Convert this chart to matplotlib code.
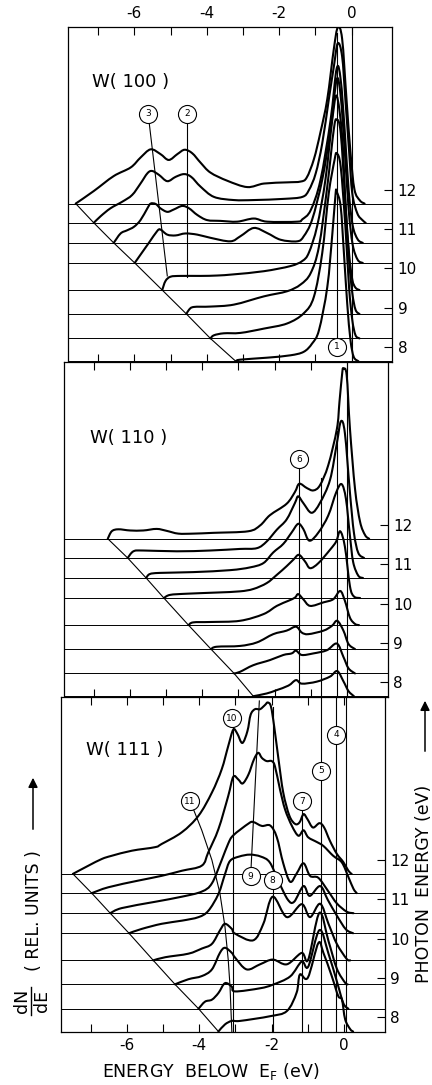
import matplotlib
matplotlib.use("Agg")
import matplotlib.pyplot as plt
from matplotlib.ticker import FixedLocator, NullFormatter
from matplotlib.lines import Line2D
from matplotlib.path import Path
from matplotlib.patches import PathPatch

plt.rcParams['font.family'] = ['DejaVu Sans']
plt.rcParams['axes.unicode_minus'] = False

# photon energies (eV) of the spectra (same set for the three faces), lowest first
photon_energy = [7.64, 8.22, 8.84, 9.45, 10.14, 10.65, 11.16, 11.65]

# ---- W(100): energy below E_F (eV) and dN/dE (rel. units), one list per spectrum
w100_energy = [
    [-3.20, -3.07, -2.33, -1.69, -1.32, -1.09, -0.90, -0.67, -0.53, -0.44, -0.41, -0.30, -0.21, -0.12, -0.03, 0.06, 0.19],
    [-3.90, -3.80, -3.53, -3.07, -2.42, -1.78, -1.32, -1.04, -0.81, -0.63, -0.47, -0.41, -0.30, -0.17, -0.07, 0.02, 0.11, 0.22],
    [-4.56, -4.49, -4.36, -3.90, -3.25, -2.42, -1.78, -1.41, -1.13, -0.90, -0.67, -0.49, -0.41, -0.30, -0.17, -0.07, 0.02, 0.11, 0.22],
    [-5.23, -5.14, -5.00, -4.72, -4.17, -3.71, -3.25, -2.42, -1.69, -1.36, -1.18, -0.95, -0.72, -0.53, -0.41, -0.26, -0.17, -0.07, 0.02, 0.11, 0.22],
    [-5.99, -5.83, -5.60, -5.37, -5.28, -5.09, -4.86, -4.59, -4.26, -3.90, -3.35, -3.07, -2.70, -2.33, -1.96, -1.50, -1.32, -1.09, -0.81, -0.58, -0.41, -0.30, -0.19, -0.08, 0.03, 0.17, 0.31],
    [-6.57, -6.38, -6.20, -6.01, -5.83, -5.64, -5.55, -5.41, -5.28, -5.09, -4.91, -4.68, -4.49, -4.26, -3.99, -3.62, -3.16, -2.70, -2.33, -1.50, -1.36, -1.13, -0.86, -0.58, -0.41, -0.30, -0.19, -0.08, 0.03, 0.17, 0.31],
    [-7.12, -6.93, -6.66, -6.33, -6.06, -5.83, -5.64, -5.51, -5.32, -5.09, -4.86, -4.63, -4.43, -4.17, -3.80, -3.25, -2.70, -1.87, -1.36, -1.18, -0.99, -0.81, -0.63, -0.49, -0.38, -0.26, -0.17, -0.07, 0.02, 0.16, 0.30, 0.39],
    [-7.62, -7.12, -6.57, -6.10, -5.83, -5.55, -5.28, -5.05, -4.81, -4.61, -4.40, -4.17, -3.90, -3.43, -2.88, -2.42, -1.78, -1.41, -1.24, -1.04, -0.86, -0.67, -0.49, -0.38, -0.26, -0.14, -0.03, 0.08, 0.23, 0.36],
]
w100_dnde = [
    [0, 0.04, 0.09, 0.15, 0.24, 0.45, 0.79, 1.89, 3.25, 4.27, 4.31, 3.93, 2.74, 1.47, 0.54, 0.11, 0],
    [0, 0.08, 0.13, 0.14, 0.25, 0.38, 0.64, 1.06, 2.17, 3.69, 4.54, 4.71, 4.37, 2.84, 1.31, 0.47, 0.08, 0],
    [0, 0.11, 0.18, 0.19, 0.24, 0.45, 0.58, 0.75, 1.04, 1.72, 3.25, 4.70, 4.95, 4.61, 2.83, 1.38, 0.54, 0.11, 0],
    [0, 0.23, 0.34, 0.36, 0.36, 0.37, 0.40, 0.48, 0.61, 0.74, 0.95, 1.63, 2.82, 4.35, 4.94, 3.92, 2.23, 0.95, 0.27, 0.06, 0],
    [0, 0.21, 0.51, 0.81, 0.85, 0.72, 0.70, 0.75, 0.72, 0.64, 0.55, 0.68, 0.89, 0.76, 0.59, 0.55, 0.68, 1.10, 2.12, 3.40, 4.67, 4.24, 2.89, 1.36, 0.47, 0.08, 0],
    [0, 0.24, 0.32, 0.41, 0.58, 0.88, 1.00, 0.99, 0.88, 0.79, 0.85, 0.94, 0.88, 0.71, 0.58, 0.56, 0.54, 0.62, 0.54, 0.54, 0.60, 0.83, 1.59, 3.12, 4.44, 4.15, 2.87, 1.34, 0.45, 0.09, 0],
    [0, 0.17, 0.37, 0.54, 0.71, 1.00, 1.26, 1.32, 1.22, 1.06, 1.17, 1.24, 1.17, 0.92, 0.66, 0.58, 0.58, 0.61, 0.66, 0.83, 1.26, 2.02, 3.13, 3.97, 4.57, 4.23, 3.13, 1.85, 0.75, 0.24, 0.07, 0],
    [0, 0.32, 0.70, 0.92, 1.17, 1.38, 1.26, 1.11, 1.26, 1.37, 1.28, 1.04, 0.79, 0.58, 0.42, 0.51, 0.54, 0.56, 0.66, 1.13, 1.81, 2.66, 3.93, 4.48, 4.19, 2.66, 1.30, 0.36, 0.08, 0],
]

# ---- W(110)
w110_energy = [
    [-2.59, -2.22, -1.96, -1.62, -1.41, -1.25, -0.84, -0.47, -0.27, -0.10, 0.04, 0.19],
    [-3.12, -2.96, -2.59, -2.13, -1.76, -1.53, -1.41, -1.25, -0.93, -0.56, -0.28, -0.10, 0.04, 0.22],
    [-3.76, -3.60, -2.96, -2.49, -2.04, -1.67, -1.41, -1.25, -1.07, -0.65, -0.42, -0.27, -0.10, 0.04, 0.22],
    [-4.38, -4.25, -3.78, -2.96, -2.31, -1.94, -1.62, -1.44, -1.35, -1.21, -1.02, -0.65, -0.38, -0.19, -0.06, 0.08, 0.22, 0.33],
    [-5.06, -4.89, -4.43, -3.60, -2.96, -2.59, -2.22, -1.94, -1.67, -1.48, -1.33, -1.16, -1.02, -0.79, -0.47, -0.30, -0.19, -0.06, 0.08, 0.19, 0.36],
    [-5.55, -5.45, -5.17, -4.25, -3.23, -2.68, -2.31, -2.04, -1.76, -1.53, -1.35, -1.21, -1.04, -0.79, -0.52, -0.30, -0.15, -0.03, 0.08, 0.17, 0.31, 0.44],
    [-6.06, -5.90, -5.63, -4.70, -3.78, -2.96, -2.49, -2.22, -1.94, -1.67, -1.44, -1.35, -1.21, -0.98, -0.75, -0.47, -0.28, -0.17, -0.06, 0.08, 0.19, 0.31, 0.47],
    [-6.61, -6.50, -6.32, -5.99, -5.63, -5.26, -4.98, -4.66, -4.25, -3.69, -2.73, -2.40, -2.13, -1.67, -1.44, -1.32, -1.11, -0.93, -0.75, -0.52, -0.28, -0.21, -0.13, -0.10, -0.01, 0.08, 0.22, 0.36, 0.50, 0.61],
]
w110_dnde = [
    [0, 0.07, 0.15, 0.27, 0.41, 0.32, 0.37, 0.50, 0.64, 0.38, 0.13, 0],
    [0, 0.04, 0.21, 0.34, 0.47, 0.51, 0.58, 0.47, 0.51, 0.59, 0.76, 0.42, 0.13, 0],
    [0, 0.06, 0.08, 0.17, 0.38, 0.47, 0.57, 0.42, 0.38, 0.47, 0.59, 0.72, 0.47, 0.13, 0],
    [0, 0.07, 0.08, 0.11, 0.28, 0.49, 0.62, 0.70, 0.79, 0.66, 0.49, 0.58, 0.66, 0.87, 0.62, 0.19, 0.03, 0],
    [0, 0.08, 0.11, 0.14, 0.17, 0.23, 0.38, 0.59, 0.81, 0.98, 1.10, 0.93, 0.76, 0.89, 1.23, 1.44, 1.70, 1.31, 0.30, 0.04, 0],
    [0, 0.10, 0.13, 0.15, 0.20, 0.27, 0.38, 0.65, 0.87, 1.16, 1.38, 1.25, 0.95, 1.16, 1.59, 2.18, 2.39, 2.01, 1.07, 0.40, 0.06, 0],
    [0, 0.17, 0.19, 0.17, 0.19, 0.23, 0.25, 0.42, 0.72, 0.98, 1.40, 1.57, 1.40, 1.15, 1.40, 1.99, 2.93, 3.48, 3.18, 1.66, 0.64, 0.13, 0],
    [0, 0.19, 0.24, 0.21, 0.21, 0.25, 0.20, 0.13, 0.13, 0.15, 0.19, 0.34, 0.60, 0.89, 1.19, 1.40, 1.29, 1.23, 1.36, 1.87, 2.80, 3.48, 4.25, 4.33, 4.16, 2.80, 1.27, 0.43, 0.09, 0],
]

# ---- W(111)
w111_energy = [
    [-3.47, -3.29, -3.10, -2.87, -2.04, -1.58, -1.31, -1.22, -1.00, -0.71, -0.57, -0.34, -0.16, -0.06, 0.03, 0.17, 0.25],
    [-4.02, -3.84, -3.65, -3.47, -3.29, -3.10, -3.01, -2.32, -1.97, -1.49, -1.17, -0.99, -0.68, -0.43, -0.20, -0.02, 0.12],
    [-4.67, -4.30, -3.93, -3.65, -3.43, -3.29, -3.10, -3.01, -2.69, -2.32, -1.97, -1.58, -1.17, -0.99, -0.68, -0.43, -0.20, 0.03, 0.10],
    [-5.27, -4.94, -4.30, -3.93, -3.65, -3.43, -3.29, -3.10, -3.01, -2.51, -2.23, -1.97, -1.58, -1.17, -0.94, -0.66, -0.43, -0.20, 0.07, 0.17],
    [-5.94, -5.59, -5.04, -4.48, -4.02, -3.75, -3.47, -3.29, -3.15, -2.90, -2.60, -2.30, -2.05, -1.80, -1.55, -1.38, -1.12, -0.95, -0.66, -0.45, -0.20, 0.05, 0.25],
    [-6.46, -6.14, -5.22, -4.48, -3.93, -3.65, -3.38, -3.20, -3.06, -2.64, -2.51, -2.27, -2.04, -1.86, -1.68, -1.49, -1.31, -1.12, -0.94, -0.71, -0.43, -0.20, 0.07, 0.26],
    [-6.97, -6.51, -5.68, -5.04, -4.48, -3.93, -3.75, -3.47, -3.20, -3.06, -2.92, -2.80, -2.64, -2.49, -2.37, -2.27, -2.14, -2.00, -1.91, -1.77, -1.63, -1.44, -1.26, -1.12, -0.99, -0.75, -0.57, -0.30, -0.06, 0.12, 0.26, 0.35],
    [-7.49, -7.06, -6.69, -6.42, -5.86, -5.22, -5.04, -4.48, -4.02, -3.65, -3.38, -3.20, -3.06, -2.95, -2.81, -2.67, -2.58, -2.46, -2.32, -2.18, -2.11, -2.02, -1.93, -1.81, -1.68, -1.51, -1.35, -1.23, -1.12, -1.01, -0.86, -0.68, -0.55, -0.39, -0.20, -0.02, 0.12, 0.21],
]
w111_dnde = [
    [0, 0.18, 0.27, 0.27, 0.39, 0.52, 0.99, 1.45, 1.37, 2.25, 2.00, 1.41, 0.90, 0.82, 0.31, 0.06, 0],
    [0, 0.18, 0.23, 0.40, 0.65, 0.56, 0.44, 0.52, 0.61, 0.82, 1.20, 1.07, 2.00, 1.40, 0.70, 0.14, 0],
    [0, 0.13, 0.21, 0.38, 0.80, 0.93, 0.80, 0.68, 0.38, 0.51, 0.63, 0.51, 0.80, 0.63, 1.82, 1.10, 0.40, 0.04, 0],
    [0, 0.08, 0.17, 0.30, 0.42, 0.76, 0.93, 0.80, 0.68, 0.51, 0.93, 1.62, 1.10, 1.43, 1.10, 1.44, 0.93, 0.42, 0.04, 0],
    [0, 0.11, 0.24, 0.32, 0.41, 0.57, 1.00, 1.50, 1.84, 1.95, 2.00, 1.95, 1.80, 1.30, 0.85, 0.80, 1.20, 0.95, 1.20, 0.85, 0.45, 0.10, 0],
    [0, 0.13, 0.29, 0.42, 0.55, 0.76, 1.35, 1.77, 1.98, 2.28, 2.32, 2.22, 2.23, 1.94, 1.27, 0.80, 1.01, 1.27, 0.95, 0.90, 0.55, 0.25, 0.04, 0],
    [0, 0.15, 0.32, 0.44, 0.57, 0.70, 1.04, 1.63, 2.47, 2.96, 2.89, 2.79, 3.02, 3.40, 3.57, 3.44, 3.36, 3.36, 3.23, 2.64, 2.13, 1.71, 1.46, 1.60, 1.42, 1.30, 1.20, 0.95, 0.78, 0.41, 0.11, 0],
    [0, 0.21, 0.38, 0.46, 0.59, 0.68, 0.76, 1.06, 1.48, 2.07, 2.66, 3.25, 3.67, 3.57, 3.33, 3.63, 4.05, 4.19, 4.19, 4.30, 4.36, 4.26, 3.75, 2.91, 2.07, 1.48, 1.27, 1.31, 1.52, 1.39, 1.18, 1.29, 1.18, 0.84, 0.51, 0.30, 0.08, 0],
]

# numbered structures: label, energy (eV), height on the photon-energy scale
w100_marks = (['1', '2', '3'], [-0.41, -4.55, -5.62], [8.01, 13.94, 13.94])
w110_marks = (['6'], [-1.33], [13.67])
w111_marks = (['10', '11', '9', '8', '7', '5', '4'],
              [-3.09, -4.25, -2.58, -1.97, -1.16, -0.64, -0.22],
              [15.61, 13.50, 11.59, 11.49, 13.50, 14.28, 15.19])

# guide lines through the structures (energy list, photon-energy list)
w100_guides = [([-0.41, -0.41], [8.01, 16.0]),
               ([-4.55, -4.55], [13.94, 9.79]),
               ([-5.62, -5.09], [13.94, 9.81]),
               ([0.0, 0.0], [7.62, 16.15])]
w110_guides = [([-1.33, -1.33], [13.67, 7.62]),
               ([-0.73, -0.73], [13.2, 7.62]),
               ([-0.27, -0.27], [14.4, 7.62]),
               ([0.0, 0.0], [7.62, 16.15])]
w111_guides = [([-3.07, -3.07], [15.61, 7.62]),
               ([-4.25, -3.93, -3.65, -3.43, -3.29, -3.20, -3.15, -3.10],
                [13.50, 12.76, 12.00, 11.16, 10.31, 9.47, 8.79, 7.64]),
               ([-2.58, -2.34], [11.59, 16.05]),
               ([-1.97, -1.97], [7.62, 15.9]),
               ([-1.16, -1.16], [13.50, 7.62]),
               ([-0.64, -0.64], [7.62, 16.15]),
               ([-0.22, -0.22], [7.62, 16.15]),
               ([0.05, 0.05], [7.62, 16.15])]

faces = ['W( 100 )', 'W( 110 )', 'W( 111 )']
face_label_pos = [(-7.17, 14.75), (-7.10, 14.22), (-7.13, 14.80)]


def smooth_path(xs, ys):
    # cubic Bezier segments through the read points (Catmull-Rom tangents)
    pts = list(zip(xs, ys))
    verts = [pts[0]]
    codes = [Path.MOVETO]
    n = len(pts)
    for i in range(n - 1):
        p0 = pts[i - 1] if i > 0 else pts[i]
        p1, p2 = pts[i], pts[i + 1]
        p3 = pts[i + 2] if i + 2 < n else pts[i + 1]
        c1 = (p1[0] + (p2[0] - p0[0]) / 6, p1[1] + (p2[1] - p0[1]) / 6)
        c2 = (p2[0] - (p3[0] - p1[0]) / 6, p2[1] - (p3[1] - p1[1]) / 6)
        verts += [c1, c2, p2]
        codes += [Path.CURVE4] * 3
    return Path(verts, codes)


W, H = 432, 1085
fig = plt.figure(figsize=(W / 100, H / 100), dpi=100)

# axes boxes in pixels (left, top, bottom), all 324 px wide
boxes = [(68.1, 26.7, 362.0), (63.6, 362.0, 697.0), (60.6, 697.0, 1032.3)]

panels = [(w100_energy, w100_dnde, w100_marks, w100_guides),
          (w110_energy, w110_dnde, w110_marks, w110_guides),
          (w111_energy, w111_dnde, w111_marks, w111_guides)]

for k, (box, (energy, dnde, marks, guides)) in enumerate(zip(boxes, panels)):
    left, top, bottom = box
    ax = fig.add_axes([left / W, 1 - bottom / H, 324 / W, (bottom - top) / H])
    ax.set_xlim(-7.83, 1.12)
    ax.set_ylim(7.62, 16.15)

    for hv in photon_energy:
        ax.axhline(hv, color='black', lw=0.7, zorder=1)

    for hv, e, d in zip(photon_energy, energy, dnde):
        patch = PathPatch(smooth_path(e, [hv + v for v in d]), fill=False,
                          edgecolor='black', lw=1.5, zorder=3, joinstyle='round',
                          capstyle='round')
        ax.add_patch(patch)

    # threshold line joining the onsets of the spectra
    ax.plot([e[0] for e in energy], photon_energy, color='black', lw=0.8, zorder=2)

    for ge, gh in guides:
        ax.plot(ge, gh, color='black', lw=0.8, zorder=2)

    labels, me, mh = marks
    ax.plot(me, mh, 'o', ms=13, mfc='white', mec='black', mew=0.8,
            linestyle='none', zorder=5)
    for lab, x, y in zip(labels, me, mh):
        ax.text(x, y, lab, fontsize=6.5, ha='center', va='center', zorder=6)

    ax.text(face_label_pos[k][0], face_label_pos[k][1], faces[k],
            fontsize=13, ha='left', va='center')

    for s in ax.spines.values():
        s.set_linewidth(0.9)

    ax.xaxis.set_major_locator(FixedLocator([-6, -4, -2, 0]))
    ax.xaxis.set_minor_locator(FixedLocator([-7, -5, -3, -1]))
    ax.yaxis.set_major_locator(FixedLocator([8, 9, 10, 11, 12]))
    ax.yaxis.set_minor_formatter(NullFormatter())
    ax.tick_params(axis='x', which='both', direction='in', length=6, width=0.8,
                   top=True, bottom=True, labeltop=(k == 0), labelbottom=(k == 2),
                   labelsize=11, pad=4)
    ax.tick_params(axis='y', which='both', direction='in', length=6, width=0.8,
                   left=False, labelleft=False, right=True, labelright=True,
                   labelsize=11, pad=4)

# axis titles drawn on the figure
fig.text(211 / W, 1 - 1072 / H, 'ENERGY  BELOW  E$_\\mathregular{F}$ (eV)',
         ha='center', va='center', fontsize=12.5)
fig.text(424 / W, 1 - 884 / H, 'PHOTON  ENERGY (eV)', rotation=90,
         ha='center', va='center', fontsize=12.5)
fig.text(34 / W, 1 - 911 / H, '( REL. UNITS )', rotation=90,
         ha='center', va='center', fontsize=12.5)
fig.text(22 / W, 1 - 1001 / H, 'dN', rotation=90, ha='center', va='center', fontsize=12.5)
fig.text(42 / W, 1 - 1001 / H, 'dE', rotation=90, ha='center', va='center', fontsize=12.5)
fig.add_artist(Line2D([31 / W, 31 / W], [1 - 987 / H, 1 - 1015 / H],
                      transform=fig.transFigure, color='black', lw=1))

arrow = dict(arrowstyle='-|>', color='black', lw=1.1, mutation_scale=14)
fig.axes[2].annotate('', xy=(33, H - 775), xycoords='figure pixels',
                     xytext=(33, H - 832), textcoords='figure pixels', arrowprops=arrow)
fig.axes[2].annotate('', xy=(425, H - 698), xycoords='figure pixels',
                     xytext=(425, H - 754), textcoords='figure pixels', arrowprops=arrow)

fig.savefig('out.png', dpi=100)
